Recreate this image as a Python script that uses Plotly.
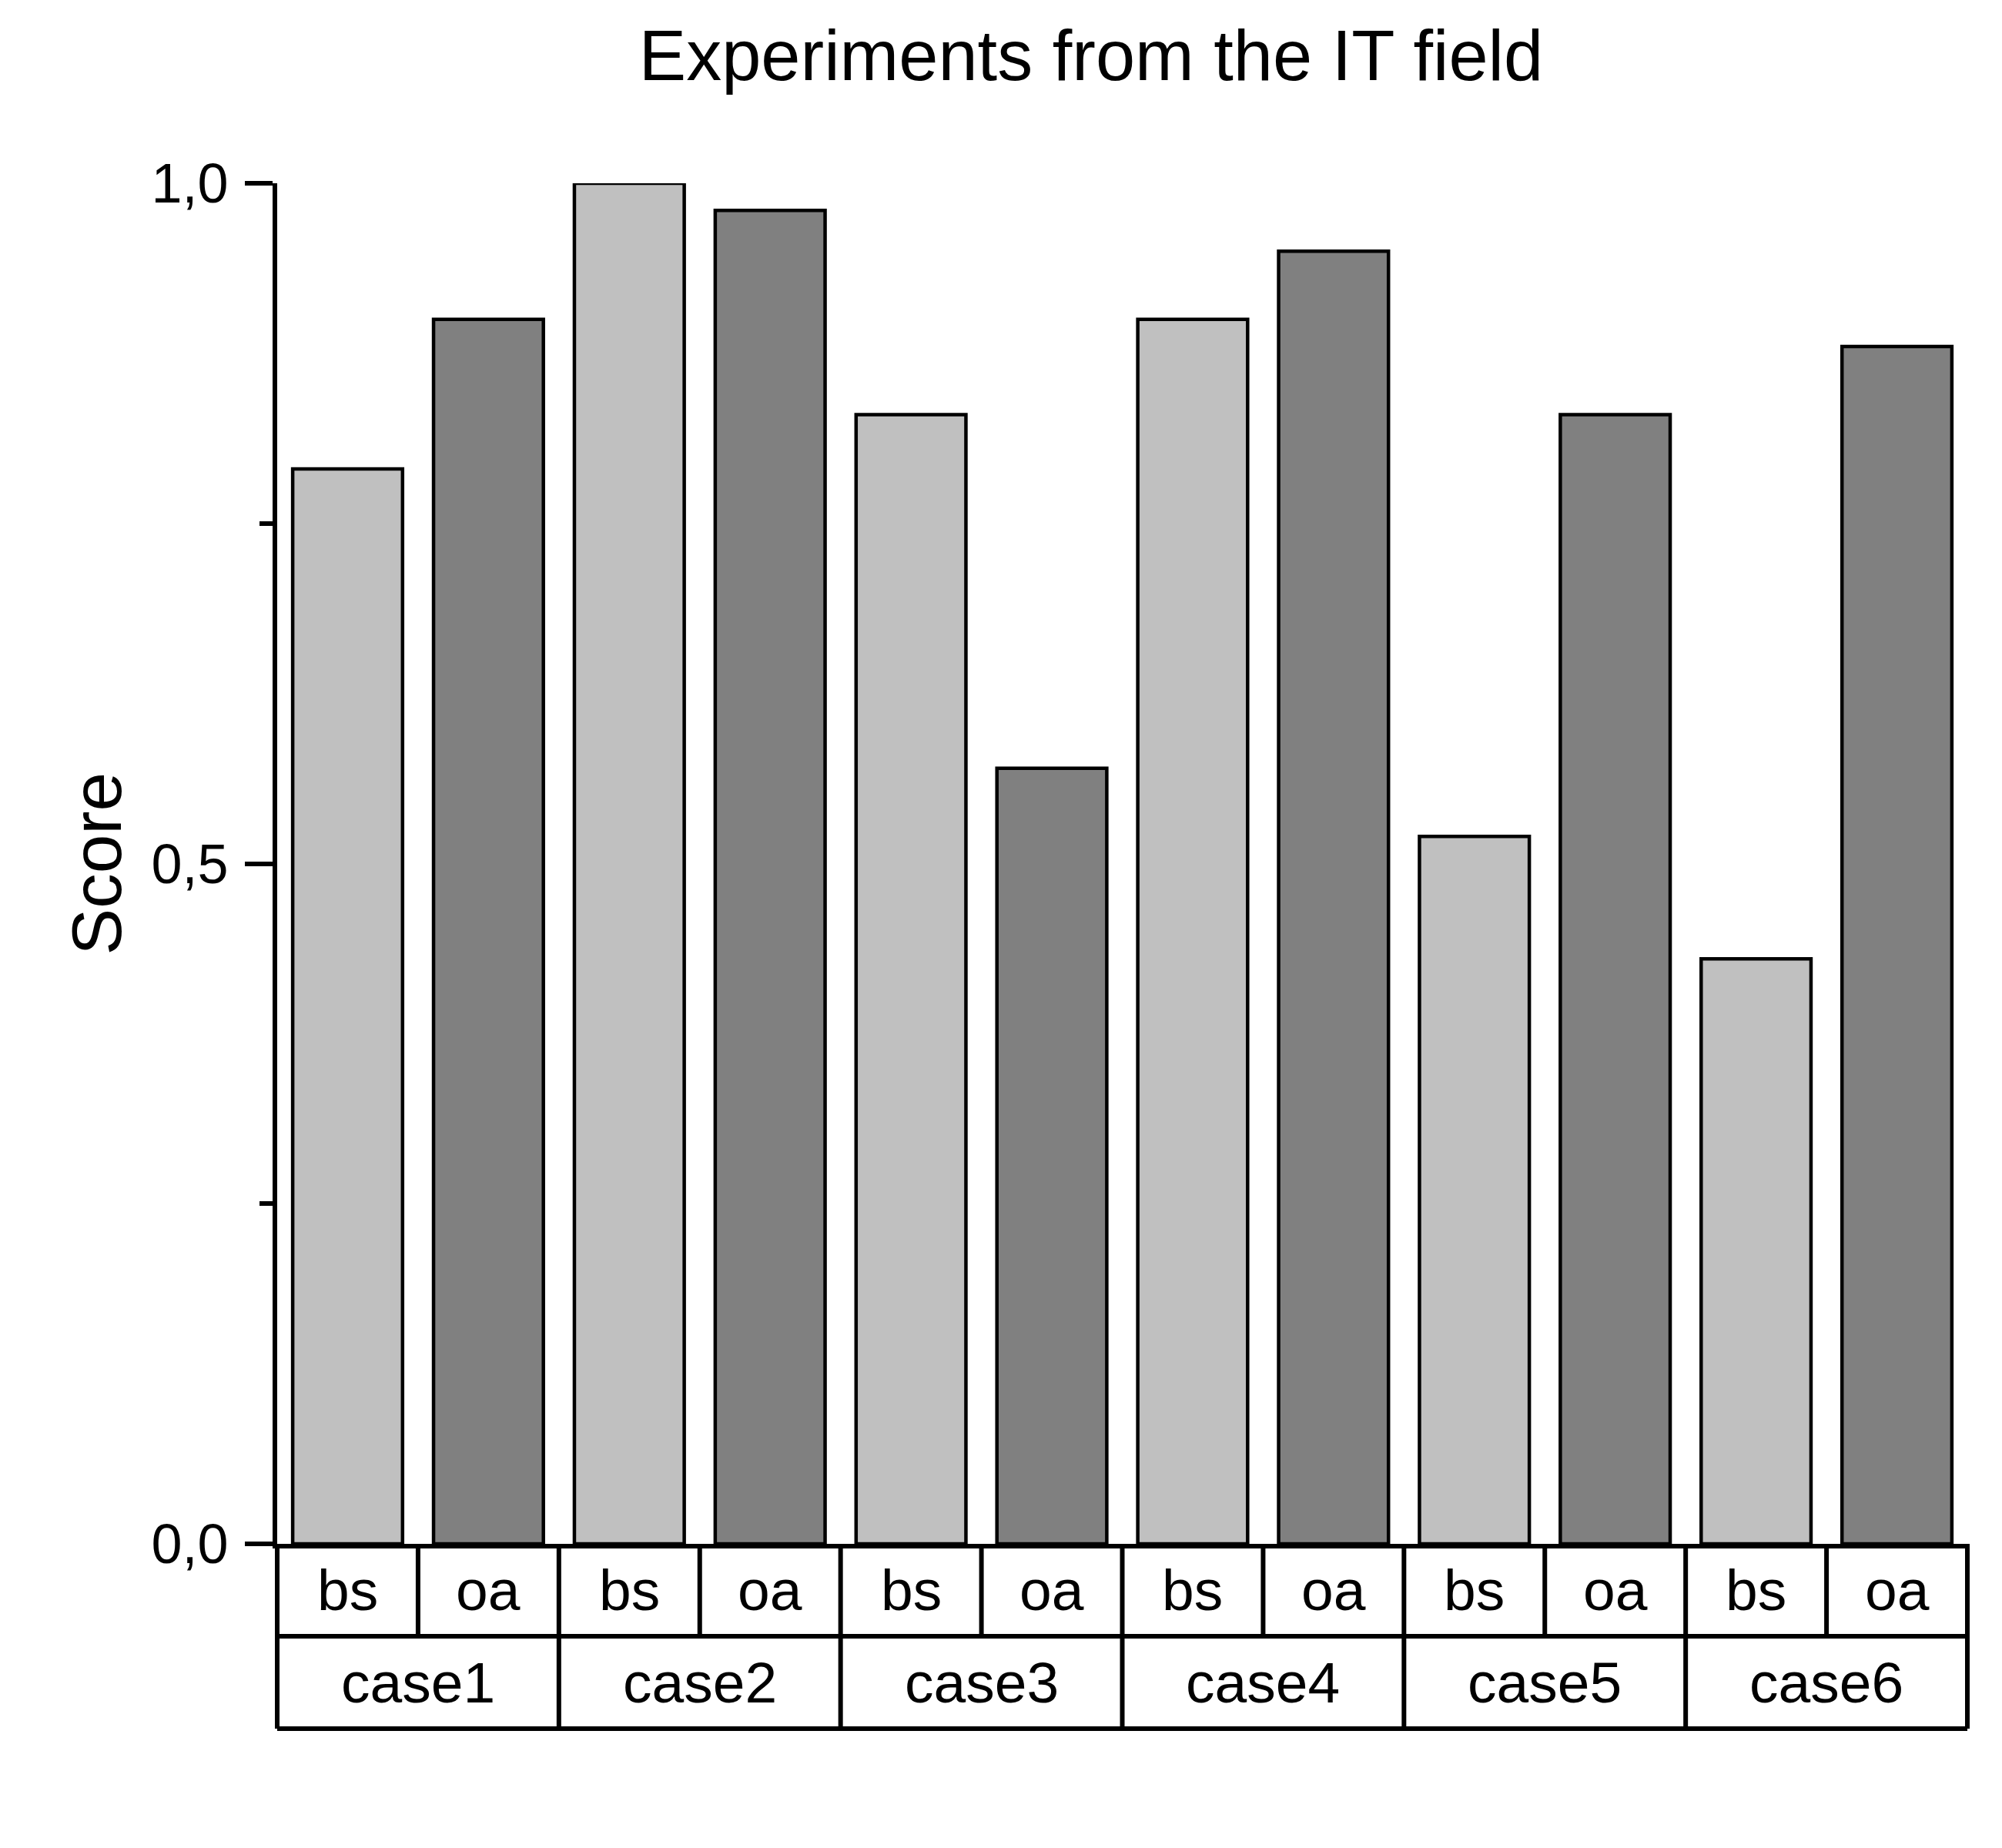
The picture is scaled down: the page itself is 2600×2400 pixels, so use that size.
import plotly.graph_objects as go

# ---- data ----
cases = ["case1", "case2", "case3", "case4", "case5", "case6"]
methods = ["bs", "oa"]
bs_values = [0.79, 1.00, 0.83, 0.90, 0.52, 0.43]
oa_values = [0.90, 0.98, 0.57, 0.95, 0.83, 0.88]
y_tickvals = [0.0, 0.5, 1.0]
y_minor_tickvals = [0.25, 0.75]

W, H = 2600, 2400
PAGE_OFF = 8  # default body margin of the html page
ML, MR, MT, MB = 360 - PAGE_OFF, 45 + PAGE_OFF, 238 - PAGE_OFF, 395 + PAGE_OFF
plot_w = W - ML - MR
plot_h = H - MT - MB
row_h = 120 / plot_h  # table row height in paper units

FONT = "Liberation Sans, Arial, sans-serif"
n_cases = len(cases)
n_m = len(methods)
n_slots = n_cases * n_m

x_bs = [k * n_m for k in range(n_cases)]
x_oa = [k * n_m + 1 for k in range(n_cases)]

fig = go.Figure()
fig.add_trace(go.Bar(x=x_bs, y=bs_values, width=0.78, name="bs",
                     marker=dict(color="#C0C0C0", line=dict(color="black", width=4.5))))
fig.add_trace(go.Bar(x=x_oa, y=oa_values, width=0.78, name="oa",
                     marker=dict(color="#808080", line=dict(color="black", width=4.5))))

shapes = []
annotations = []
LW = 6
# horizontal table lines
for r in (1, 2):
    shapes.append(dict(type="line", xref="paper", yref="paper", x0=0, x1=1,
                       y0=-r * row_h, y1=-r * row_h, line=dict(color="black", width=LW)))
# verticals
for i in range(n_slots + 1):
    xp = i / n_slots
    full = (i % n_m == 0)
    shapes.append(dict(type="line", xref="paper", yref="paper", x0=xp, x1=xp,
                       y0=0, y1=-(2 if full else 1) * row_h,
                       line=dict(color="black", width=LW)))
for i in range(n_slots):
    annotations.append(dict(text=methods[i % n_m], xref="paper", yref="paper",
                            x=(i + 0.5) / n_slots, y=-0.5 * row_h, showarrow=False,
                            xanchor="center", yanchor="middle",
                            font=dict(size=75, color="black", family=FONT)))
for k in range(n_cases):
    annotations.append(dict(text=cases[k], xref="paper", yref="paper",
                            x=(k + 0.5) / n_cases, y=-1.5 * row_h, showarrow=False,
                            xanchor="center", yanchor="middle",
                            font=dict(size=75, color="black", family=FONT)))
# y axis title
annotations.append(dict(text="Score", xref="paper", yref="paper",
                        x=(117 - ML) / plot_w, y=0.5, textangle=-90,
                        showarrow=False, xanchor="center", yanchor="middle",
                        font=dict(size=91, color="black", family=FONT)))

fig.update_layout(
    width=W, height=H,
    margin=dict(l=ML, r=MR, t=MT, b=MB),
    paper_bgcolor="white", plot_bgcolor="white",
    separators=",.",
    barmode="overlay",
    showlegend=False,
    font=dict(family=FONT, color="black"),
    title=dict(text="Experiments from the IT field", x=1409 / W, xanchor="center",
               y=1 - 64 / H, yanchor="middle",
               font=dict(size=92, color="black", family=FONT)),
    xaxis=dict(range=[-0.5, n_slots - 0.5], showgrid=False, zeroline=False,
               showticklabels=False, ticks="", showline=True, linecolor="black",
               linewidth=LW, fixedrange=True),
    yaxis=dict(range=[0, 1.0], tickvals=y_tickvals, tickformat=".1f",
               showgrid=False, zeroline=False, showline=True, linecolor="black",
               linewidth=LW, ticks="outside", ticklen=36, tickwidth=LW,
               tickcolor="black", ticklabelstandoff=7,
               tickfont=dict(size=72, color="black", family=FONT),
               minor=dict(tickvals=y_minor_tickvals, ticks="outside", ticklen=17,
                          tickwidth=LW, tickcolor="black")),
    shapes=shapes,
    annotations=annotations,
)

fig.write_html("out.html")
